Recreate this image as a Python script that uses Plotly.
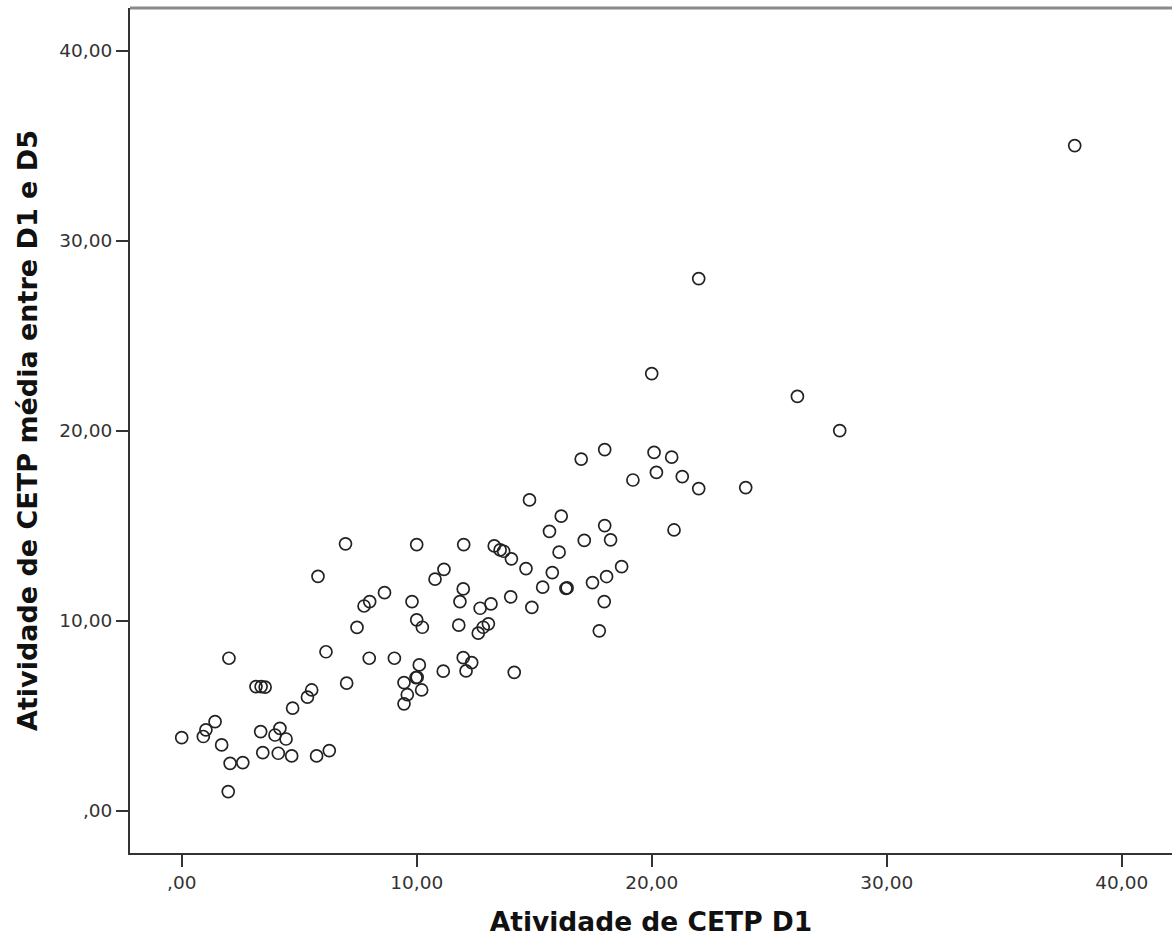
import plotly.graph_objects as go

# CETP activity on D1 (x) vs mean CETP activity between D1 and D5 (y)
cetp_d1 = [
    38.0, 22.0, 20.0, 26.2, 28.0, 18.0, 17.0, 20.1, 20.85, 20.2,
    21.3, 19.2, 22.0, 24.0, 14.8, 16.15, 15.65, 18.0, 20.95, 17.13,
    18.25, 6.97, 10.0, 12.0, 13.3, 13.55, 13.7, 14.03, 16.06, 15.77,
    18.72, 14.65, 5.8, 11.16, 10.78, 8.63, 15.36, 16.35, 16.4, 17.48,
    18.08, 17.98, 17.77, 14.9, 14.0, 13.16, 12.7, 11.98, 11.84, 9.8,
    8.0, 7.76, 7.46, 10.0, 10.24, 11.79, 13.05, 12.83, 12.62, 2.01,
    6.14, 7.98, 9.05, 10.11, 11.13, 11.98, 12.34, 12.1, 14.15, 9.97,
    10.02, 9.46, 10.21, 9.6, 9.46, 7.02, 3.16, 3.38, 3.55, 5.53,
    5.35, 4.72, 1.42, 1.03, 0.92, 0.0, 1.7, 3.36, 4.18, 3.97,
    4.44, 3.45, 4.11, 4.68, 2.06, 2.6, 1.98, 5.74, 6.28,
]
cetp_mean_d1_d5 = [
    35.0, 28.0, 23.0, 21.8, 20.0, 19.0, 18.5, 18.85, 18.6, 17.8,
    17.58, 17.4, 16.95, 17.0, 16.35, 15.5, 14.7, 15.0, 14.77, 14.22,
    14.25, 14.04, 14.0, 14.0, 13.93, 13.72, 13.65, 13.25, 13.6, 12.53,
    12.84, 12.74, 12.33, 12.7, 12.18, 11.47, 11.76, 11.7, 11.72, 12.0,
    12.32, 11.0, 9.46, 10.7, 11.25, 10.88, 10.65, 11.67, 11.0, 11.0,
    11.0, 10.77, 9.64, 10.04, 9.65, 9.76, 9.83, 9.65, 9.34, 8.02,
    8.36, 8.02, 8.02, 7.67, 7.34, 8.05, 7.79, 7.35, 7.28, 7.0,
    7.02, 6.74, 6.35, 6.1, 5.62, 6.71, 6.53, 6.53, 6.5, 6.35,
    5.97, 5.39, 4.68, 4.25, 3.9, 3.84, 3.46, 4.16, 4.33, 3.98,
    3.77, 3.05, 3.02, 2.88, 2.49, 2.53, 1.0, 2.88, 3.16,
]

x_tick_values = [0, 10, 20, 30, 40]
x_tick_labels = [",00", "10,00", "20,00", "30,00", "40,00"]
y_tick_values = [0, 10, 20, 30, 40]
y_tick_labels = [",00", "10,00", "20,00", "30,00", "40,00"]

x_title = "Atividade de CETP D1"
y_title = "Atividade de CETP média entre D1 e D5"

fig = go.Figure()
fig.add_trace(go.Scatter(
    x=cetp_d1,
    y=cetp_mean_d1_d5,
    mode="markers",
    marker=dict(symbol="circle-open", size=12, color="#222222",
                line=dict(width=1.7, color="#222222")),
    showlegend=False,
    hoverinfo="x+y",
))

axis_font = dict(family="DejaVu Sans", size=18.5, color="#333333")

fig.update_layout(
    width=1172,
    height=941,
    margin=dict(l=130, r=0, t=8, b=88),
    paper_bgcolor="white",
    plot_bgcolor="white",
    xaxis=dict(
        range=[-2.2, 42.14],
        tickvals=x_tick_values,
        ticktext=x_tick_labels,
        ticks="outside",
        ticklen=12,
        tickwidth=2,
        tickcolor="#333333",
        showline=True,
        linecolor="#333333",
        linewidth=2,
        showgrid=False,
        zeroline=False,
        tickfont=axis_font,
        title=dict(text="<b>" + x_title + "</b>",
                   font=dict(family="DejaVu Sans", size=26.5, color="#111111"),
                   standoff=20),
    ),
    yaxis=dict(
        range=[-2.23, 42.24],
        tickvals=y_tick_values,
        ticktext=y_tick_labels,
        ticks="outside",
        ticklen=12,
        tickwidth=2,
        tickcolor="#333333",
        showline=True,
        linecolor="#333333",
        linewidth=2,
        showgrid=False,
        zeroline=False,
        tickfont=axis_font,
        title=dict(text="<b>" + y_title + "</b>",
                   font=dict(family="DejaVu Sans", size=27, color="#111111"),
                   standoff=14),
    ),
    shapes=[
        dict(type="line", xref="paper", yref="paper", x0=0, x1=1, y0=1, y1=1,
             line=dict(color="#8a8a8a", width=3)),
    ],
)

fig.write_html("out.html")
